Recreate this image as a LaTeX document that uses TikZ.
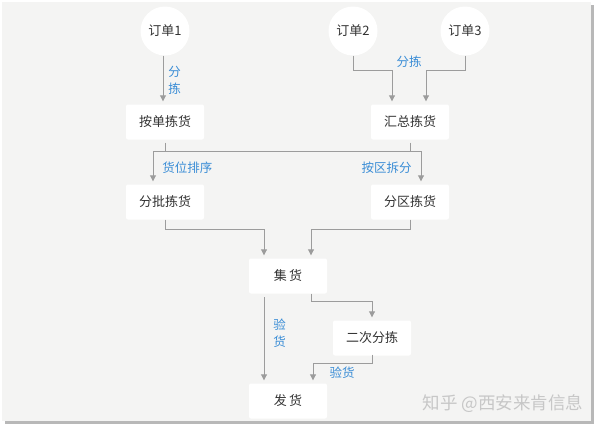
\documentclass[tikz,border=0pt]{standalone}
\usepackage{fontspec}
\setmainfont{Noto Sans CJK SC}
\usetikzlibrary{arrows.meta,positioning,calc}
\definecolor{panelgray}{HTML}{F4F4F3}
\definecolor{linegray}{HTML}{9C9C9C}
\definecolor{labelblue}{HTML}{3A8DD6}
\definecolor{textgray}{HTML}{333333}

\begin{document}
\begin{tikzpicture}[
  x=1pt, y=-1pt,
  box/.style={rectangle, fill=white, rounded corners=2pt, minimum width=78pt, minimum height=35pt, text=textgray, font=\fontsize{13}{15}\selectfont},
  order/.style={circle, fill=white, minimum size=49pt, inner sep=0pt, text=textgray, font=\fontsize{13}{15}\selectfont},
  line/.style={linegray, line width=0.9pt},
  arrow/.style={line, -{Triangle[width=6pt,length=6pt]}, shorten >=3pt},
  lbl/.style={text=labelblue, font=\fontsize{12.5}{17}\selectfont, align=center, inner sep=1pt}
]
  % panel and shadow
  \fill[white] (0,0) rectangle (600,429);
  \fill[black!28] (5,5) rectangle (594,424);
  \fill[panelgray] (2,2) rectangle (591,421);
  \useasboundingbox (0,0) rectangle (600,429);

  % orders
  \node[order] (o1) at (165,31) {订单1};
  \node[order] (o2) at (353,31) {订单2};
  \node[order] (o3) at (465,31) {订单3};

  % picking boxes
  \node[box] (ad) at (165,122) {按单拣货};
  \node[box] (hz) at (410,122) {汇总拣货};
  \node[box] (fp) at (165,202) {分批拣货};
  \node[box] (fq) at (410,202) {分区拣货};
  \node[box] (jh) at (288,276) {集\,货};
  \node[box] (ec) at (372,338) {二次分拣};
  \node[box] (fh) at (288,401) {发\,货};

  % corner points
  \coordinate (j2) at (392,70);
  \coordinate (j3) at (426,70);
  \coordinate (barL) at (153,151);
  \coordinate (barR) at (421,151);
  \coordinate (m1) at (264,229);
  \coordinate (m2) at (311,229);
  \coordinate (c1) at (264,297);
  \coordinate (c2) at (311,301);
  \coordinate (c3) at (372,363);
  \coordinate (c4) at (313,363);

  % orders to picking
  \draw[arrow] ([xshift=-2pt]o1.south) -- ([xshift=-2pt]ad.north)
    node[lbl, midway, right=4pt] {分\\拣};
  \draw[arrow] (o2.south) |- (j2) -- (j2 |- hz.north);
  \draw[arrow] (o3.south) |- (j3) -- (j3 |- hz.north);
  \node[lbl] at (409,62) {分拣};

  % picking to batch / zone
  \draw[line, shorten <=3pt] (ad.south) -- (ad.south |- barL);
  \draw[line, shorten <=3pt] (hz.south) -- (hz.south |- barR);
  \draw[line] (barL) -- (barR);
  \draw[arrow] (barL) -- (barL |- fp.north)
    node[lbl, midway, right=8pt] {货位排序};
  \draw[arrow] (barR) -- (barR |- fq.north)
    node[lbl, midway, left=8pt] {按区拆分};

  % to collecting
  \draw[arrow] (fp.south) |- (m1) -- (m1 |- jh.north);
  \draw[arrow] (fq.south) |- (m2) -- (m2 |- jh.north);

  % to shipping
  \draw[arrow] (c1) -- (c1 |- fh.north)
    node[lbl, pos=0.42, right=8pt] {验\\货};
  \draw[arrow, shorten <=0pt] (jh.south -| c2) -- (c2) -| (ec.north);
  \draw[arrow, shorten <=0pt] ([yshift=1pt]ec.south) -- (c3) -| (c4 |- fh.north);
  \node[lbl] at (342,373) {验货};

  % watermark
  \node[text=black!22, font=\fontsize{17.5}{19}\selectfont, anchor=east] (wm) at (587,404) {知乎 @西安来肯信息};
\end{tikzpicture}
\end{document}
